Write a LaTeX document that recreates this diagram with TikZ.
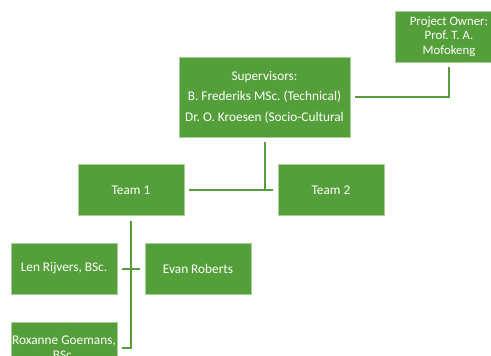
\documentclass[tikz,border=0pt]{standalone}
\usepackage{fontspec}
\setmainfont{Carlito}
\definecolor{orggreen}{HTML}{559F3B}
\definecolor{orgedge}{HTML}{A8CF98}
\frenchspacing
\begin{document}
\begin{tikzpicture}[x=1pt,y=-1pt,
  box/.style={rectangle, fill=orggreen, draw=orgedge, line width=0.6pt,
    text=white, align=center, inner sep=1pt,
    font=\fontsize{13.3}{15.5}\selectfont},
  smallbox/.style={box, minimum width=106pt, minimum height=51pt},
  conn/.style={draw=orggreen, line width=2pt, shorten <=5pt, shorten >=5pt}]
\useasboundingbox (0,0) rectangle (491,356);
\clip (0,0) rectangle (491,356);
\fill[white] (0,0) rectangle (491,356);
% boxes of the chart
\node[box, minimum width=108pt, minimum height=51pt,
  font=\fontsize{12.8}{14.5}\selectfont] (owner) at (449,36.5)
  {Project Owner:\\Prof. T. A.\\Mofokeng};
\node[box, minimum width=171pt, minimum height=80pt,
  font=\fontsize{13.3}{20.5}\selectfont] (sup) at (264.5,97)
  {Supervisors:\\B. Frederiks MSc. (Technical)\\Dr. O. Kroesen (Socio-Cultural};
\node[smallbox] (team1) at (131,190) {Team 1};
\node[smallbox] (team2) at (331,190) {Team 2};
\node[smallbox] (len) at (64,268.5) {Len Rijvers, BSc.};
\node[smallbox] (evan) at (198,268.5) {Evan Roberts};
\node[smallbox] (rox) at (64,347.5)
  {Roxanne Goemans,\\BSc.};
% connectors
\path[conn] (sup.east) -| (owner.south);
\path[conn, shorten >=0pt] (sup.south) -- (sup.south |- team1.east);
\path[conn] (team1.east) -- (team2.west);
\path[conn] (team1.south) |- (rox.east);
\path[conn] (len.east) -- (evan.west);
\end{tikzpicture}
\end{document}
